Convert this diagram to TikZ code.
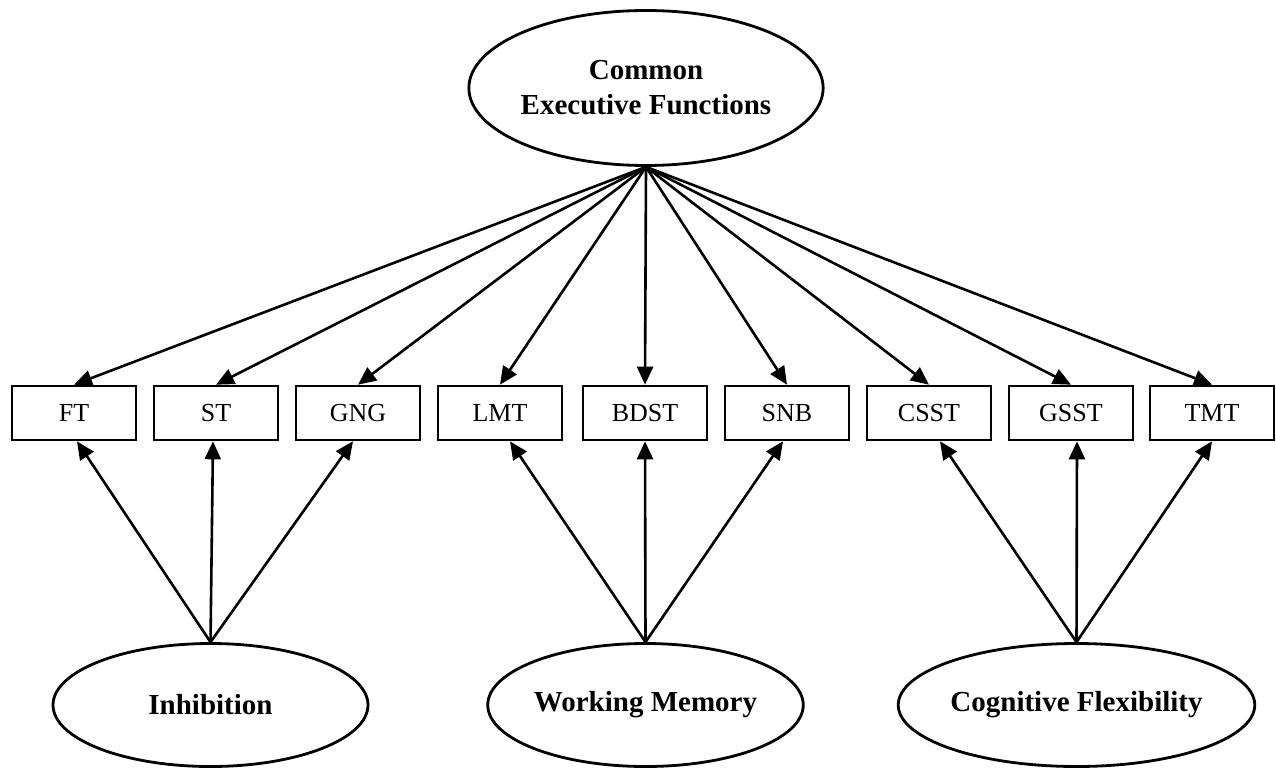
\documentclass[tikz,border=0pt]{standalone}
\usepackage{fontspec}
\setmainfont{Liberation Serif}
\usetikzlibrary{shapes.geometric,arrows.meta}
\begin{document}
\begin{tikzpicture}[x=1pt,y=-1pt,
  latent/.style={ellipse,draw,line width=2.8pt,inner sep=0pt,font=\fontsize{29}{35}\selectfont\bfseries,align=center},
  obs/.style={rectangle,draw,line width=2.6pt,minimum width=124pt,minimum height=54pt,inner sep=0pt,font=\fontsize{26}{30}\selectfont},
  path/.style={line width=2.6pt,-{Triangle[length=18pt,width=16pt]}}]
\useasboundingbox (0,0) rectangle (1276,768);
\node[latent,minimum width=338pt,minimum height=155pt] (cef) at (646,88) {Common\\Executive Functions};
\node[latent,minimum width=315pt,minimum height=123pt] (inh) at (210.5,705) {Inhibition};
\node[latent,minimum width=296pt,minimum height=123pt] (wm) at (645.5,705) {Working Memory};
\node[latent,minimum width=296pt,minimum height=123pt] (cf) at (1076.5,705) {Cognitive Flexibility};
\node[obs] (ft) at (74,413) {FT};
\node[obs] (st) at (216,413) {ST};
\node[obs] (gng) at (358,413) {GNG};
\node[obs] (lmt) at (500,413) {LMT};
\node[obs] (bdst) at (645,413) {BDST};
\node[obs] (snb) at (787,413) {SNB};
\node[obs] (csst) at (929,413) {CSST};
\node[obs] (gsst) at (1071,413) {GSST};
\node[obs] (tmt) at (1212,413) {TMT};
\foreach \b in {ft,st,gng,lmt,bdst,snb,csst,gsst,tmt}
  \draw[path] (cef.south) -- (\b.north);
\draw[path] (inh.north) -- ([xshift=3pt]ft.south);
\draw[path] (inh.north) -- ([xshift=-3pt]st.south);
\draw[path] (inh.north) -- ([xshift=-5pt]gng.south);
\draw[path] (wm.north) -- ([xshift=10pt]lmt.south);
\draw[path] (wm.north) -- (bdst.south);
\draw[path] (wm.north) -- ([xshift=-4pt]snb.south);
\draw[path] (cf.north) -- ([xshift=11pt]csst.south);
\draw[path] (cf.north) -- ([xshift=6pt]gsst.south);
\draw[path] (cf.north) -- (tmt.south);
\end{tikzpicture}
\end{document}
